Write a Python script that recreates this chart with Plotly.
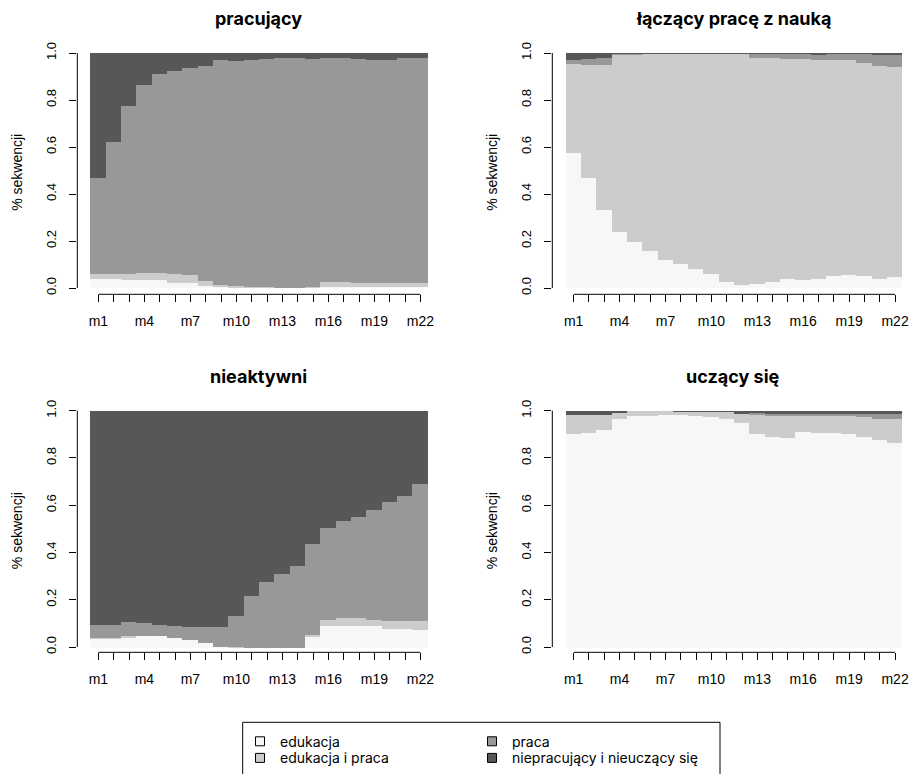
import plotly.graph_objects as go

# ---------------- data ----------------
months = ["m1", "m2", "m3", "m4", "m5", "m6", "m7", "m8", "m9", "m10", "m11",
          "m12", "m13", "m14", "m15", "m16", "m17", "m18", "m19", "m20", "m21", "m22"]
shown_every = 3
states = ["edukacja", "edukacja i praca", "praca", "niepracujący i nieuczący się"]
colors = ["#F7F7F7", "#CCCCCC", "#989898", "#575757"]
panel_titles = ["pracujący", "łączący pracę z nauką", "nieaktywni", "uczący się"]
y_ticks = [0.0, 0.2, 0.4, 0.6, 0.8, 1.0]
y_title = "% sekwencji"

# panel 1: pracujący
p1_edukacja = [0.040, 0.037, 0.033, 0.033, 0.033, 0.023, 0.020, 0.010, 0.006, 0.002, 0.003,
               0.001, 0.000, 0.000, 0.002, 0.003, 0.003, 0.003, 0.006, 0.006, 0.003, 0.003]
p1_edu_praca = [0.021, 0.024, 0.028, 0.032, 0.032, 0.038, 0.034, 0.018, 0.008, 0.008, 0.003,
                0.002, 0.000, 0.000, 0.004, 0.024, 0.024, 0.020, 0.017, 0.017, 0.020, 0.020]
p1_praca = [0.409, 0.560, 0.713, 0.799, 0.846, 0.861, 0.881, 0.917, 0.955, 0.956, 0.964,
            0.972, 0.979, 0.979, 0.969, 0.952, 0.952, 0.952, 0.947, 0.947, 0.956, 0.956]
p1_nie = [0.530, 0.379, 0.226, 0.136, 0.089, 0.078, 0.065, 0.055, 0.031, 0.034, 0.030,
          0.025, 0.021, 0.021, 0.025, 0.021, 0.021, 0.025, 0.030, 0.030, 0.021, 0.021]

# panel 2: łączący pracę z nauką
p2_edukacja = [0.574, 0.470, 0.332, 0.239, 0.194, 0.158, 0.120, 0.103, 0.082, 0.061, 0.027,
               0.011, 0.018, 0.027, 0.040, 0.035, 0.040, 0.052, 0.057, 0.052, 0.040, 0.048]
p2_edu_praca = [0.378, 0.479, 0.617, 0.755, 0.801, 0.839, 0.877, 0.894, 0.914, 0.935, 0.969,
                0.985, 0.961, 0.952, 0.935, 0.940, 0.930, 0.918, 0.912, 0.906, 0.905, 0.893]
p2_praca = [0.017, 0.024, 0.028, 0.003, 0.003, 0.002, 0.002, 0.002, 0.002, 0.002, 0.002,
            0.002, 0.018, 0.019, 0.023, 0.022, 0.024, 0.028, 0.029, 0.039, 0.049, 0.053]
p2_nie = [0.031, 0.027, 0.023, 0.003, 0.002, 0.001, 0.001, 0.001, 0.002, 0.002, 0.002,
          0.002, 0.003, 0.002, 0.002, 0.003, 0.006, 0.002, 0.002, 0.003, 0.006, 0.006]

# panel 3: nieaktywni
p3_edukacja = [0.039, 0.039, 0.042, 0.047, 0.047, 0.042, 0.030, 0.017, 0.004, 0.000, 0.000,
               0.000, 0.000, 0.000, 0.047, 0.089, 0.093, 0.089, 0.089, 0.080, 0.080, 0.076]
p3_edu_praca = [0.003, 0.003, 0.005, 0.000, 0.000, 0.000, 0.000, 0.000, 0.000, 0.001, 0.000,
                0.000, 0.000, 0.000, 0.008, 0.029, 0.030, 0.034, 0.029, 0.034, 0.034, 0.038]
p3_praca = [0.055, 0.055, 0.059, 0.055, 0.050, 0.051, 0.055, 0.068, 0.081, 0.134, 0.216,
            0.279, 0.313, 0.347, 0.381, 0.386, 0.414, 0.431, 0.466, 0.500, 0.529, 0.576]
p3_nie = [0.903, 0.903, 0.894, 0.898, 0.903, 0.907, 0.915, 0.915, 0.915, 0.865, 0.784,
          0.721, 0.687, 0.653, 0.564, 0.496, 0.463, 0.446, 0.416, 0.386, 0.357, 0.310]

# panel 4: uczący się
p4_edukacja = [0.903, 0.907, 0.920, 0.969, 0.979, 0.979, 0.983, 0.983, 0.979, 0.975, 0.969,
               0.952, 0.903, 0.890, 0.886, 0.911, 0.907, 0.907, 0.903, 0.890, 0.877, 0.865]
p4_edu_praca = [0.080, 0.076, 0.063, 0.025, 0.021, 0.021, 0.017, 0.014, 0.018, 0.022, 0.028,
                0.037, 0.084, 0.093, 0.097, 0.072, 0.076, 0.076, 0.080, 0.085, 0.092, 0.104]
p4_praca = [0.000, 0.000, 0.000, 0.000, 0.000, 0.000, 0.000, 0.000, 0.000, 0.000, 0.000,
            0.003, 0.004, 0.007, 0.007, 0.007, 0.007, 0.007, 0.007, 0.015, 0.021, 0.021]
p4_nie = [0.017, 0.017, 0.017, 0.006, 0.000, 0.000, 0.000, 0.003, 0.003, 0.003, 0.003,
          0.008, 0.009, 0.010, 0.010, 0.010, 0.010, 0.010, 0.010, 0.010, 0.010, 0.010]

panels_data = [
    [p1_edukacja, p1_edu_praca, p1_praca, p1_nie],
    [p2_edukacja, p2_edu_praca, p2_praca, p2_nie],
    [p3_edukacja, p3_edu_praca, p3_praca, p3_nie],
    [p4_edukacja, p4_edu_praca, p4_praca, p4_nie],
]

# ---------------- layout geometry (pixels) ----------------
W, H = 912, 774
# axis_left, plot_right, bar_left, bar_right, plot_top, plot_bottom, y0_px, y1_px
geom = [
    (77.3, 441.0, 90.7, 428.0, 47.0, 294.3, 288.0, 53.0),
    (552.3, 912.0, 566.0, 902.7, 47.0, 294.3, 288.0, 53.0),
    (77.3, 441.0, 90.7, 428.0, 404.5, 652.3, 647.0, 410.7),
    (552.3, 912.0, 566.0, 902.7, 404.5, 652.3, 647.0, 410.7),
]
title_y_px = [18, 18, 376, 376]

AX_FONT = "Liberation Sans, Arial, sans-serif"
TXT_FONT = "Inter, Lato, sans-serif"

def px_x(p):
    return p / W

def px_y(p):
    return 1 - p / H

n = len(months)
xpos = list(range(1, n + 1))
ticktext = [m if (i % shown_every == 0) else "" for i, m in enumerate(months)]

fig = go.Figure()
layout = dict(
    template="none",
    width=W, height=H, autosize=False,
    margin=dict(l=0, r=0, t=0, b=0, autoexpand=False),
    paper_bgcolor="white", plot_bgcolor="white",
    barmode="stack", bargap=0,
    showlegend=True,
)
shapes = []
annotations = []

for k, (data, g) in enumerate(zip(panels_data, geom)):
    axL, plR, bL, bR, top, bot, y0p, y1p = g
    sx = (bR - bL) / n
    xr = [0.5 - (bL - axL) / sx, n + 0.5 + (plR - bR) / sx]
    sy = (y0p - y1p)
    yr = [-(bot - y0p) / sy, 1 + (y1p - top) / sy]
    sfx = "" if k == 0 else str(k + 1)
    xa, ya = "x" + sfx, "y" + sfx
    for s_i, (vals, col) in enumerate(zip(data, colors)):
        fig.add_trace(go.Bar(
            x=xpos, y=vals, width=1, marker=dict(color=col, line=dict(width=0)),
            name=states[s_i], showlegend=False, xaxis=xa, yaxis=ya,
            hovertemplate="%{y:.3f}<extra>" + states[s_i] + "</extra>",
        ))
    layout["xaxis" + sfx] = dict(
        domain=[px_x(axL), min(px_x(plR), 1.0)], range=xr, anchor=ya,
        automargin=False,
        showgrid=False, zeroline=False, showline=False,
        tickmode="array", tickvals=xpos, ticktext=ticktext,
        ticks="outside", ticklen=7, tickwidth=1, tickcolor="black",
        tickfont=dict(family=AX_FONT, size=14, color="black"),
        ticklabelstandoff=7, fixedrange=True,
    )
    layout["yaxis" + sfx] = dict(
        domain=[px_y(bot), px_y(top)], range=yr, anchor=xa,
        automargin=False,
        showgrid=False, zeroline=False, showline=False,
        tickmode="array", tickvals=y_ticks, ticktext=[f"{v:.1f}" for v in y_ticks],
        ticks="outside", ticklen=7, tickwidth=1, tickcolor="black",
        tickangle=-90,
        tickfont=dict(family=AX_FONT, size=13, color="black"),
        ticklabelstandoff=8, fixedrange=True,
    )
    # R-style axis lines spanning only the tick range
    shapes.append(dict(type="line", xref=xa + " domain", yref=ya,
                       x0=0, x1=0, y0=y_ticks[0], y1=y_ticks[-1],
                       line=dict(color="black", width=1)))
    shapes.append(dict(type="line", xref=xa, yref=ya + " domain",
                       x0=xpos[0], x1=xpos[-1], y0=0, y1=0,
                       line=dict(color="black", width=1)))
    # panel title
    annotations.append(dict(
        text=panel_titles[k], xref="paper", yref="paper",
        x=px_x((bL + bR) / 2 - 1), y=px_y(title_y_px[k]),
        xanchor="center", yanchor="middle", showarrow=False,
        font=dict(family=TXT_FONT, size=18, color="black", weight=700),
    ))
    # y axis title
    annotations.append(dict(
        text=y_title, xref="paper", yref="paper",
        x=px_x(axL - 60), y=px_y((y0p + y1p) / 2 + 2),
        xanchor="center", yanchor="middle", showarrow=False, textangle=-90,
        font=dict(family=AX_FONT, size=14, color="black"),
    ))

# legend entries (2 rows x 2 columns, R-style)
legend_rows = [[0, 2], [1, 3]]
for r, row in enumerate(legend_rows):
    lname = "legend" if r == 0 else "legend2"
    for s_i in row:
        fig.add_trace(go.Scatter(
            x=[None], y=[None], mode="markers", name=states[s_i],
            marker=dict(symbol="square", size=9, color=colors[s_i],
                        line=dict(color="black", width=1)),
            legend=lname, showlegend=True, hoverinfo="skip",
        ))

leg_common = dict(
    orientation="h", xanchor="left", yanchor="middle", traceorder="normal",
    entrywidth=187, entrywidthmode="pixels",
    bgcolor="rgba(0,0,0,0)", borderwidth=0,
    font=dict(family=TXT_FONT, size=14, color="black"),
    itemclick=False, itemdoubleclick=False,
)
layout["legend"] = dict(leg_common, x=px_x(240), y=px_y(741.7))
layout["legend2"] = dict(leg_common, x=px_x(240), y=px_y(758.3))

shapes.append(dict(type="rect", xref="paper", yref="paper",
                   x0=px_x(242.7), x1=px_x(720), y0=px_y(722.3), y1=px_y(776),
                   line=dict(color="black", width=1), fillcolor="rgba(0,0,0,0)"))

layout["shapes"] = shapes
layout["annotations"] = annotations
fig.update_layout(**layout)

fig.write_html("out.html")
